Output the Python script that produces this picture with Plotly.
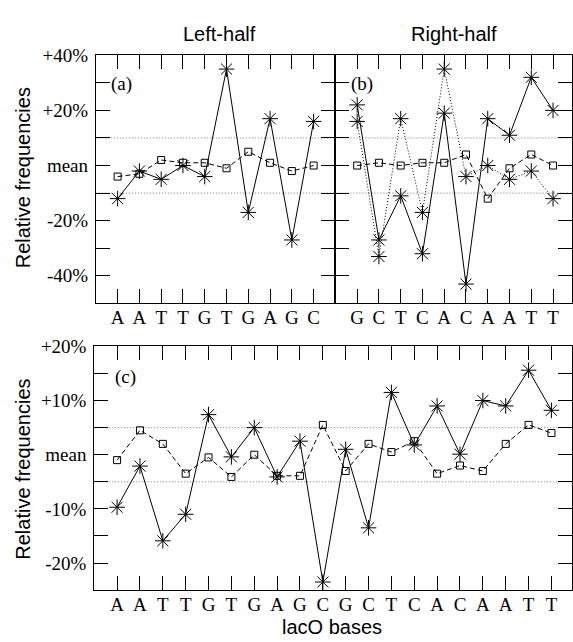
import plotly.graph_objects as go

# ---------------- data ----------------
left_bases = ["A", "A", "T", "T", "G", "T", "G", "A", "G", "C"]
right_bases = ["G", "C", "T", "C", "A", "C", "A", "A", "T", "T"]
all_bases = left_bases + right_bases

# panel (a): left half
a_stars = [-12, -2, -5, 0, -4, 35, -17, 17, -27, 16]
a_squares = [-4, -3, 2, 1, 1, -1, 5, 1, -2, 0]

# panel (b): right half
b_stars_solid = [22, -27, -11, -32, 19, -43, 17, 11, 32, 20]
b_stars_dotted = [16, -33, 17, -17, 35, -4, 0, -5, -2, -12]
b_squares = [0, 1, 0, 1, 1, 4, -12, -1, 4, 0]

# panel (c): whole operator
c_stars = [-9.7, -2.1, -15.9, -11, 7.4, -0.4, 5, -4.1, 2.5, -23.5,
           1, -13.5, 11.5, 1.8, 9, 0.1, 10, 9, 15.6, 8.2]
c_squares = [-1, 4.5, 2, -3.5, -0.5, -4.1, 0, -3.9, -3.9, 5.5,
             -3, 2, 0.5, 2.5, -3.5, -2, -3, 2, 5.5, 4]

top_tickvals = [-40, -30, -20, -10, 0, 10, 20, 30, 40]
top_ticktext = ["-40%", "", "-20%", "", "mean", "", "+20%", "", "+40%"]
bot_tickvals = [-20, -15, -10, -5, 0, 5, 10, 15, 20]
bot_ticktext = ["-20%", "", "-10%", "", "mean", "", "+10%", "", "+20%"]
top_ref = [-10, 10]
bot_ref = [-5, 5]

# ---------------- figure ----------------
W, H = 573, 642
SERIF = "Liberation Serif"
SANS = "Liberation Sans"

def px_x(p):
    return p / W

def px_y(p):
    return 1 - p / H

fig = go.Figure()

star = dict(symbol="asterisk-open", size=13, color="black", line=dict(width=1, color="black"))
square = dict(symbol="square-open", size=7, color="black", line=dict(width=1, color="black"))

def add_series(xs, ys, xa, ya, dash, marker):
    fig.add_trace(go.Scatter(
        x=xs, y=ys, xaxis=xa, yaxis=ya, mode="lines+markers",
        line=dict(color="black", width=1, dash=dash), marker=marker,
        showlegend=False, hoverinfo="skip", cliponaxis=False))

xa_pos = list(range(1, len(left_bases) + 1))
xb_pos = list(range(1, len(right_bases) + 1))
xc_pos = list(range(1, len(all_bases) + 1))

add_series(xa_pos, a_squares, "x", "y", "5px,3px", square)
add_series(xa_pos, a_stars, "x", "y", "solid", star)
add_series(xb_pos, b_squares, "x2", "y2", "5px,3px", square)
add_series(xb_pos, b_stars_dotted, "x2", "y2", "1px,2px", star)
add_series(xb_pos, b_stars_solid, "x2", "y2", "solid", star)
add_series(xc_pos, c_squares, "x3", "y3", "5px,3px", square)
add_series(xc_pos, c_stars, "x3", "y3", "solid", star)

common_x = dict(ticks="inside", ticklen=14, tickwidth=1, tickcolor="black",
                showline=True, linecolor="black", linewidth=1, mirror="ticks",
                showgrid=False, zeroline=False, ticklabelstandoff=-3,
                tickfont=dict(family=SERIF, size=19, color="black"))
common_y = dict(ticks="inside", ticklen=14, tickwidth=1, tickcolor="black",
                showline=True, linecolor="black", linewidth=1, mirror="ticks",
                showgrid=False, zeroline=False, ticklabelstandoff=3,
                tickfont=dict(family=SERIF, size=19, color="black"))

top_dom = [px_y(298), px_y(46)]
bot_dom = [px_y(589.3), px_y(341.7)]

fig.update_layout(
    width=W, height=H,
    margin=dict(l=0, r=0, t=0, b=0),
    paper_bgcolor="white", plot_bgcolor="white",
    xaxis=dict(common_x, domain=[px_x(96), px_x(336)], anchor="y",
               range=[0, 11], tickvals=xa_pos, ticktext=left_bases),
    yaxis=dict(common_y, domain=top_dom, anchor="x", range=[-50, 40],
               tickvals=top_tickvals, ticktext=top_ticktext),
    xaxis2=dict(common_x, domain=[px_x(336), 1], anchor="y2",
                range=[0, 237 / 21.8], tickvals=xb_pos, ticktext=right_bases),
    yaxis2=dict(common_y, domain=top_dom, anchor="x2", range=[-50, 40],
                tickvals=top_tickvals, showticklabels=False),
    xaxis3=dict(common_x, domain=[px_x(94.4), 1], anchor="y3",
                range=[0, (W - 94.4) / 22.9], tickvals=xc_pos, ticktext=all_bases),
    yaxis3=dict(common_y, domain=bot_dom, anchor="x3", range=[-25, 20],
                tickvals=bot_tickvals, ticktext=bot_ticktext),
)

shapes = []
for xr, yr, refs in [("x", "y", top_ref), ("x2", "y2", top_ref), ("x3", "y3", bot_ref)]:
    for v in refs:
        shapes.append(dict(type="line", xref=xr + " domain", yref=yr,
                           x0=0, x1=1, y0=v, y1=v, layer="below",
                           line=dict(color="#777777", width=1, dash="1px,2px")))
fig.update_layout(shapes=shapes)

ann = []
def text(x, y, s, family, size, angle=0):
    ann.append(dict(x=px_x(x), y=px_y(y), xref="paper", yref="paper", text=s,
                    showarrow=False, textangle=angle, xanchor="center", yanchor="middle",
                    font=dict(family=family, size=size, color="black")))

text(220, 24, "Left-half", SANS, 20)
text(455, 24, "Right-half", SANS, 20)
text(23, 170, "Relative frequencies", SANS, 20, -90)
text(23, 466, "Relative frequencies", SANS, 20, -90)
text(333, 627, "lacO bases", SANS, 20)
text(122, 75, "(a)", SERIF, 19)
text(363, 75, "(b)", SERIF, 19)
text(126, 373, "(c)", SERIF, 19)
fig.update_layout(annotations=ann)

fig.write_html("out.html",
               config={"displayModeBar": False, "staticPlot": True},
               post_script="document.body.style.margin='0';document.body.style.overflow='hidden';")
